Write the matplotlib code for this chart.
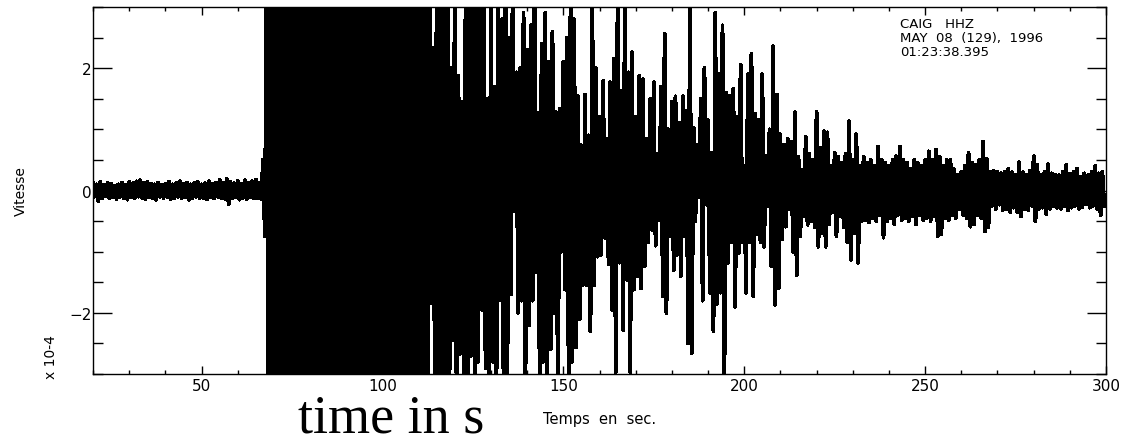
import numpy as np
import matplotlib
matplotlib.use("Agg")
import matplotlib.pyplot as plt
from matplotlib.ticker import MultipleLocator

# seismogram CAIG HHZ, values in 1e-4 (velocity)
# one upper and one lower swing per second, starting at t0 (clipped values = 3.5)
t0 = 20

peak_hi = [
    0.12, 0.10, 0.14, 0.09, 0.12, 0.11, 0.08, 0.10, 0.13, 0.09,   # 20
    0.14, 0.12, 0.15, 0.17, 0.12, 0.14, 0.11, 0.10, 0.13, 0.09,   # 30
    0.11, 0.14, 0.10, 0.12, 0.15, 0.11, 0.13, 0.10, 0.12, 0.14,   # 40
    0.10, 0.12, 0.15, 0.11, 0.13, 0.17, 0.12, 0.19, 0.14, 0.12,   # 50
    0.16, 0.11, 0.17, 0.12, 0.15, 0.18, 0.12, 0.50, 3.5, 3.5,     # 60
    3.5, 3.5, 3.5, 3.5, 3.5, 3.5, 3.5, 3.5, 3.5, 3.5,             # 70
    3.5, 3.5, 3.5, 3.5, 3.5, 3.5, 3.5, 3.5, 3.5, 3.5,             # 80
    3.5, 3.5, 3.5, 3.5, 3.5, 3.5, 3.5, 3.5, 3.5, 3.5,             # 90
    3.5, 3.5, 3.5, 3.5, 3.5, 3.5, 3.5, 3.5, 3.5, 3.5,             # 100
    3.5, 3.5, 3.5, 3.5, 2.33, 3.5, 3.5, 3.5, 3.5, 2.0,            # 110
    3.5, 1.87, 1.44, 3.5, 3.5, 3.5, 3.5, 3.5, 3.5, 1.5,           # 120
    3.5, 1.7, 3.5, 2.8, 3.5, 2.5, 3.5, 1.93, 2.0, 2.9,            # 130
    2.3, 2.7, 3.5, 1.26, 2.4, 2.9, 2.1, 2.6, 1.28, 1.33,          # 140
    2.1, 2.5, 3.2, 2.8, 1.54, 0.74, 1.57, 0.9, 3.2, 2.0,          # 150
    1.2, 1.79, 0.85, 1.77, 2.15, 3.2, 1.63, 3.2, 1.93, 2.26,      # 160
    1.2, 1.87, 1.82, 0.84, 1.5, 1.77, 0.59, 1.7, 2.56, 1.0,       # 170
    1.45, 1.54, 1.1, 1.54, 1.3, 3.2, 1.03, 0.75, 1.5, 2.0,        # 180
    1.15, 0.62, 2.9, 1.9, 2.7, 1.6, 1.55, 1.66, 1.2, 2.06,        # 190
    0.4, 1.9, 2.23, 1.25, 1.15, 1.9, 0.56, 1.0, 2.36, 1.57,       # 200
    0.92, 0.75, 0.84, 0.8, 1.28, 0.55, 0.34, 0.88, 0.6, 0.5,      # 210
    1.28, 0.7, 0.97, 0.95, 0.4, 0.62, 0.55, 0.45, 0.6, 1.13,      # 220
    0.5, 0.92, 0.4, 0.55, 0.45, 0.5, 0.4, 0.72, 0.5, 0.45,        # 230
    0.4, 0.5, 0.56, 0.72, 0.5, 0.45, 0.35, 0.5, 0.45, 0.4,        # 240
    0.5, 0.64, 0.5, 0.67, 0.55, 0.4, 0.5, 0.5, 0.35, 0.26,        # 250
    0.3, 0.4, 0.62, 0.45, 0.42, 0.5, 0.8, 0.52, 0.3, 0.32,        # 260
    0.3, 0.28, 0.3, 0.36, 0.3, 0.26, 0.46, 0.3, 0.25, 0.32,       # 270
    0.56, 0.42, 0.26, 0.3, 0.43, 0.28, 0.26, 0.25, 0.3, 0.42,     # 280
    0.27, 0.3, 0.36, 0.22, 0.28, 0.25, 0.3, 0.4, 0.28, 0.3,       # 290
]

peak_lo = [
    -0.10, -0.17, -0.13, -0.09, -0.12, -0.11, -0.14, -0.10, -0.12, -0.15,   # 20
    -0.11, -0.13, -0.10, -0.12, -0.14, -0.11, -0.13, -0.15, -0.10, -0.12,   # 30
    -0.11, -0.14, -0.12, -0.10, -0.13, -0.11, -0.15, -0.12, -0.10, -0.13,   # 40
    -0.12, -0.14, -0.11, -0.13, -0.10, -0.12, -0.14, -0.22, -0.13, -0.11,   # 50
    -0.15, -0.12, -0.14, -0.11, -0.13, -0.12, -0.14, -0.75, -3.5, -3.5,     # 60
    -3.5, -3.5, -3.5, -3.5, -3.5, -3.5, -3.5, -3.5, -3.5, -3.5,             # 70
    -3.5, -3.5, -3.5, -3.5, -3.5, -3.5, -3.5, -3.5, -3.5, -3.5,             # 80
    -3.5, -3.5, -3.5, -3.5, -3.5, -3.5, -3.5, -3.5, -3.5, -3.5,             # 90
    -3.5, -3.5, -3.5, -3.5, -3.5, -3.5, -3.5, -3.5, -3.5, -3.5,             # 100
    -3.5, -3.5, -3.5, -1.84, -3.5, -3.5, -3.5, -3.5, -3.5, -2.44,           # 110
    -3.5, -2.67, -3.5, -3.5, -2.7, -3.5, -2.8, -1.95, -2.9, -3.5,           # 120
    -2.8, -3.5, -1.79, -3.5, -3.5, -1.7, -0.34, -2.0, -1.8, -3.5,           # 130
    -2.2, -1.8, -1.33, -3.5, -2.8, -3.5, -2.6, -2.0, -3.5, -1.0,            # 140
    -1.62, -3.5, -2.8, -2.56, -2.1, -1.54, -1.55, -2.3, -1.55, -1.08,       # 150
    -1.05, -0.77, -1.2, -1.95, -2.97, -1.18, -2.28, -1.46, -2.97, -1.62,    # 160
    -1.4, -1.6, -1.24, -0.85, -0.64, -0.9, -0.48, -1.73, -2.0, -0.75,       # 170
    -1.3, -1.05, -1.4, -0.75, -2.5, -2.66, -0.5, -0.1, -1.8, -0.23,         # 180
    -1.67, -2.3, -1.85, -1.67, -3.3, -1.18, -0.85, -1.9, -1.02, -0.85,      # 190
    -1.67, -0.85, -1.73, -0.72, -0.85, -0.92, -0.26, -1.24, -1.87, -1.6,    # 200
    -0.8, -0.59, -0.31, -1.0, -1.38, -0.75, -0.42, -0.56, -0.5, -0.6,       # 210
    -0.92, -0.7, -0.92, -0.55, -0.36, -0.75, -0.42, -0.6, -0.85, -1.13,     # 220
    -0.7, -1.18, -0.5, -0.48, -0.52, -0.45, -0.5, -0.4, -0.77, -0.5,        # 230
    -0.45, -0.55, -0.4, -0.48, -0.45, -0.5, -0.42, -0.55, -0.4, -0.48,      # 240
    -0.45, -0.5, -0.42, -0.75, -0.72, -0.45, -0.48, -0.4, -0.45, -0.31,     # 250
    -0.4, -0.45, -0.59, -0.55, -0.4, -0.45, -0.67, -0.6, -0.25, -0.3,       # 260
    -0.23, -0.32, -0.3, -0.35, -0.28, -0.35, -0.42, -0.3, -0.32, -0.25,     # 270
    -0.5, -0.3, -0.28, -0.39, -0.3, -0.25, -0.28, -0.3, -0.26, -0.32,       # 280
    -0.28, -0.25, -0.3, -0.27, -0.22, -0.28, -0.25, -0.3, -0.4, -0.25,      # 290
]

station_info = ["CAIG   HHZ", "MAY  08  (129),  1996", "01:23:38.395"]

W, H = 1124, 439

# time axis: up swing at each second, down swing half a second later
secs = np.arange(t0, t0 + len(peak_hi))
tt = np.column_stack([secs, secs + 0.5]).ravel()
vv = np.column_stack([peak_hi, peak_lo]).ravel()

fig = plt.figure(figsize=(W / 100, H / 100), dpi=100)
ax = fig.add_axes([93 / W, 1 - 375 / H, (1106 - 93) / W, (375 - 8) / H])
ax.plot(tt, vv, color="black", lw=2.1, antialiased=False)

ax.set_xlim(20, 300)
ax.set_ylim(-3, 3)
ax.xaxis.set_major_locator(MultipleLocator(50))
ax.xaxis.set_minor_locator(MultipleLocator(10))
ax.yaxis.set_major_locator(MultipleLocator(2))
ax.yaxis.set_minor_locator(MultipleLocator(0.5))
ax.tick_params(which="both", direction="in", top=True, right=True,
               labelsize=11, width=1)
ax.tick_params(axis="x", which="major", length=6, pad=3)
ax.tick_params(axis="x", which="minor", length=3)
ax.tick_params(axis="y", which="major", length=14, pad=1)
ax.tick_params(axis="y", which="minor", length=7)
for s in ax.spines.values():
    s.set_linewidth(1)

# labels
fig.text(600 / W, 1 - 420 / H, "Temps  en  sec.", ha="center", va="center", fontsize=10.5)
fig.text(21 / W, 1 - 191 / H, "Vitesse", rotation=90, ha="center", va="center", fontsize=10)
fig.text(51 / W, 1 - 357 / H, "x 10-4", rotation=90, ha="center", va="center", fontsize=10)
fig.text(298 / W, 1 - 433 / H, "time in s", ha="left", va="baseline",
         fontsize=39, family="Liberation Serif")

for i, line in enumerate(station_info):
    fig.text(900 / W, 1 - (25 + i * 13.5) / H, line, ha="left", va="center", fontsize=9.5)

fig.savefig("out.png", dpi=100)
